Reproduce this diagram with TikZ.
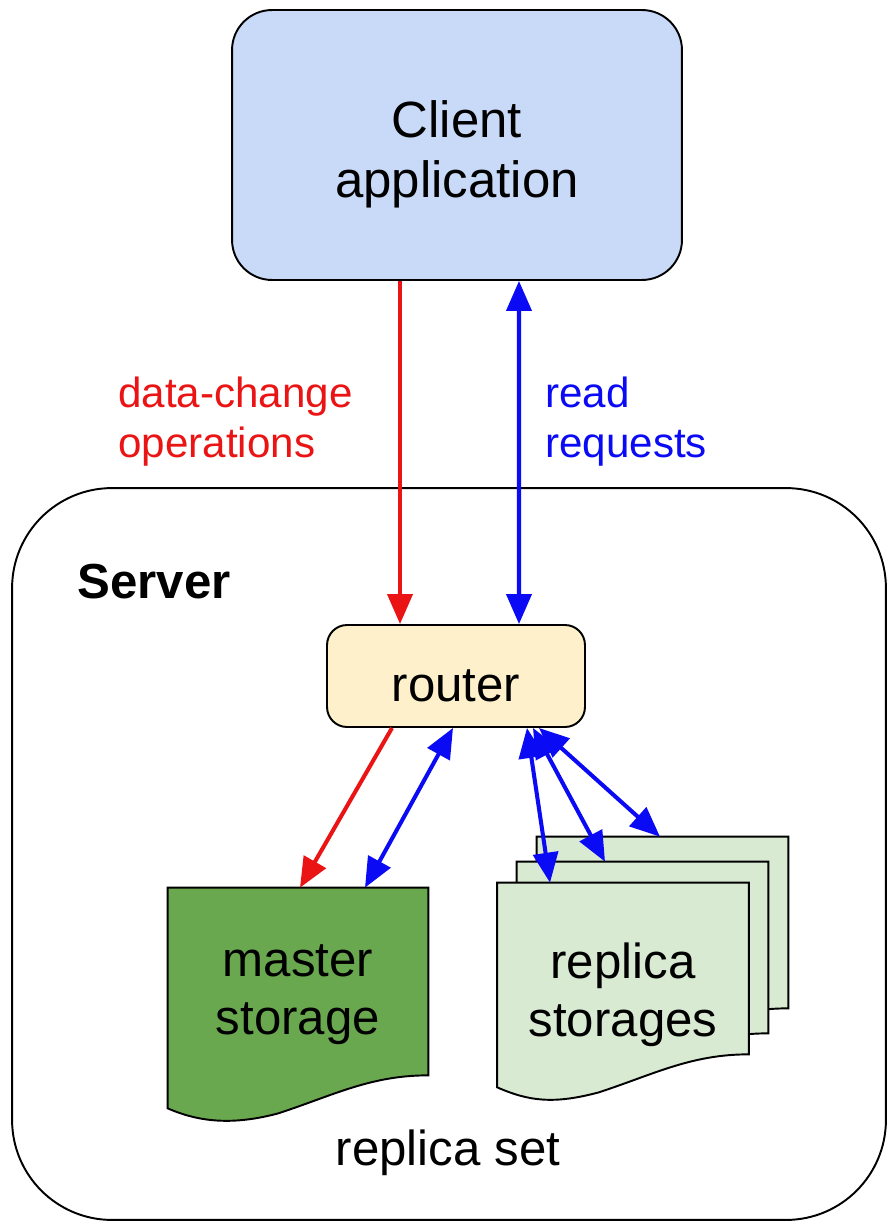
\documentclass[tikz,border=0pt]{standalone}
\usepackage{fontspec}
\setmainfont{Liberation Sans}
\usetikzlibrary{arrows.meta}

\definecolor{clientblue}{RGB}{201,218,248}
\definecolor{routeryellow}{RGB}{253,240,203}
\definecolor{mastergreen}{RGB}{106,168,79}
\definecolor{replicagreen}{RGB}{217,234,211}
\definecolor{writered}{RGB}{235,20,20}
\definecolor{readblue}{RGB}{10,10,245}

\newcommand{\diagfont}{\fontsize{28pt}{33pt}\selectfont}
\newcommand{\notefont}{\fontsize{24pt}{28.5pt}\selectfont}

\newcommand{\storageoutline}[4]{%
  \filldraw[fill=#2, line width=1.1pt] (#1.north west) -- (#1.north east) -- ([yshift=0.66cm]#1.south east)
    .. controls +(-58,0) and +(55,-18) .. ++(-150,38)
    .. controls +(-45,12) and +(32,14) .. (#1.south west) -- cycle
    ([yshift=#4]#1.center) node[align=center, font=\diagfont] (#1text) {#3};}

\begin{document}
\begin{tikzpicture}[x=0.02cm, y=-0.02cm,
  box/.style={draw, line width=1.1pt},
  store/.style={inner sep=0pt, minimum width=5.02cm, minimum height=4.08cm},
  writearrow/.style={draw=writered, line width=2.3pt, -{Triangle[length=0.6cm, width=0.5cm]}},
  readarrow/.style={draw=readblue, line width=2.3pt, {Triangle[length=0.6cm, width=0.5cm]}-{Triangle[length=0.6cm, width=0.5cm]}}]
            \useasboundingbox (0,0) rectangle (888,1224);

            \node[box, rounded corners=2cm, minimum width=17.48cm, minimum height=14.64cm] (server) at (449,854) {};
            \node[anchor=west, inner sep=0pt, font=\diagfont\bfseries] (servertitle) at (77,582) {Server};

            \node[box, fill=clientblue, rounded corners=0.8cm, minimum width=9cm, minimum height=5.4cm] (client) at (457,145) {};
            \node[align=center, font=\fontsize{29pt}{34pt}\selectfont] (clienttext) at (457,154) {Client\\application};
            \node[box, fill=routeryellow, rounded corners=0.4cm, minimum width=5.16cm, minimum height=2.04cm] (router) at (456,676) {};
            \node[font=\diagfont] (routertext) at (456,686) {router};

            \node[anchor=west, align=left, inner sep=0pt, text=writered, font=\notefont] (writelabel) at (118,422) {data-change\\operations};
            \node[anchor=west, align=left, inner sep=0pt, text=readblue, font=\notefont] (readlabel) at (545,422) {read\\requests};

            \node[store, minimum width=5.2cm, minimum height=4.4cm] (master) at (298,998) {};
            \node[store] (replicaback) at (662.5,939) {};
            \node[store] (replicamid) at (642.5,964) {};
            \node[store] (replica) at (623,985) {};

            \storageoutline{master}{mastergreen}{master\\storage}{0.06cm}
            \storageoutline{replicaback}{replicagreen}{}{0cm}
            \storageoutline{replicamid}{replicagreen}{}{0cm}
            \storageoutline{replica}{replicagreen}{replica\\storages}{-0.2cm}

            \node[font=\diagfont] (setlabel) at (448,1153) {replica set};

            \draw[writearrow] ([xshift=-1.14cm]client.south) -- ([xshift=-1.12cm]router.north);
            \draw[readarrow] ([xshift=1.24cm]client.south) -- ([xshift=1.26cm]router.north);
            \draw[writearrow] ([xshift=-1.28cm]router.south) -- ([xshift=0.04cm]master.north);
            \draw[readarrow] ([xshift=-0.06cm]router.south) -- ([xshift=1.34cm]master.north);
            \draw[readarrow] ([xshift=1.42cm]router.south) -- ([xshift=-1.46cm]replica.north);
            \draw[readarrow] ([xshift=1.54cm]router.south) -- ([xshift=-0.75cm]replicamid.north);
            \draw[readarrow] ([xshift=1.66cm]router.south) -- ([xshift=-0.05cm]replicaback.north);
        \end{tikzpicture}
\end{document}
